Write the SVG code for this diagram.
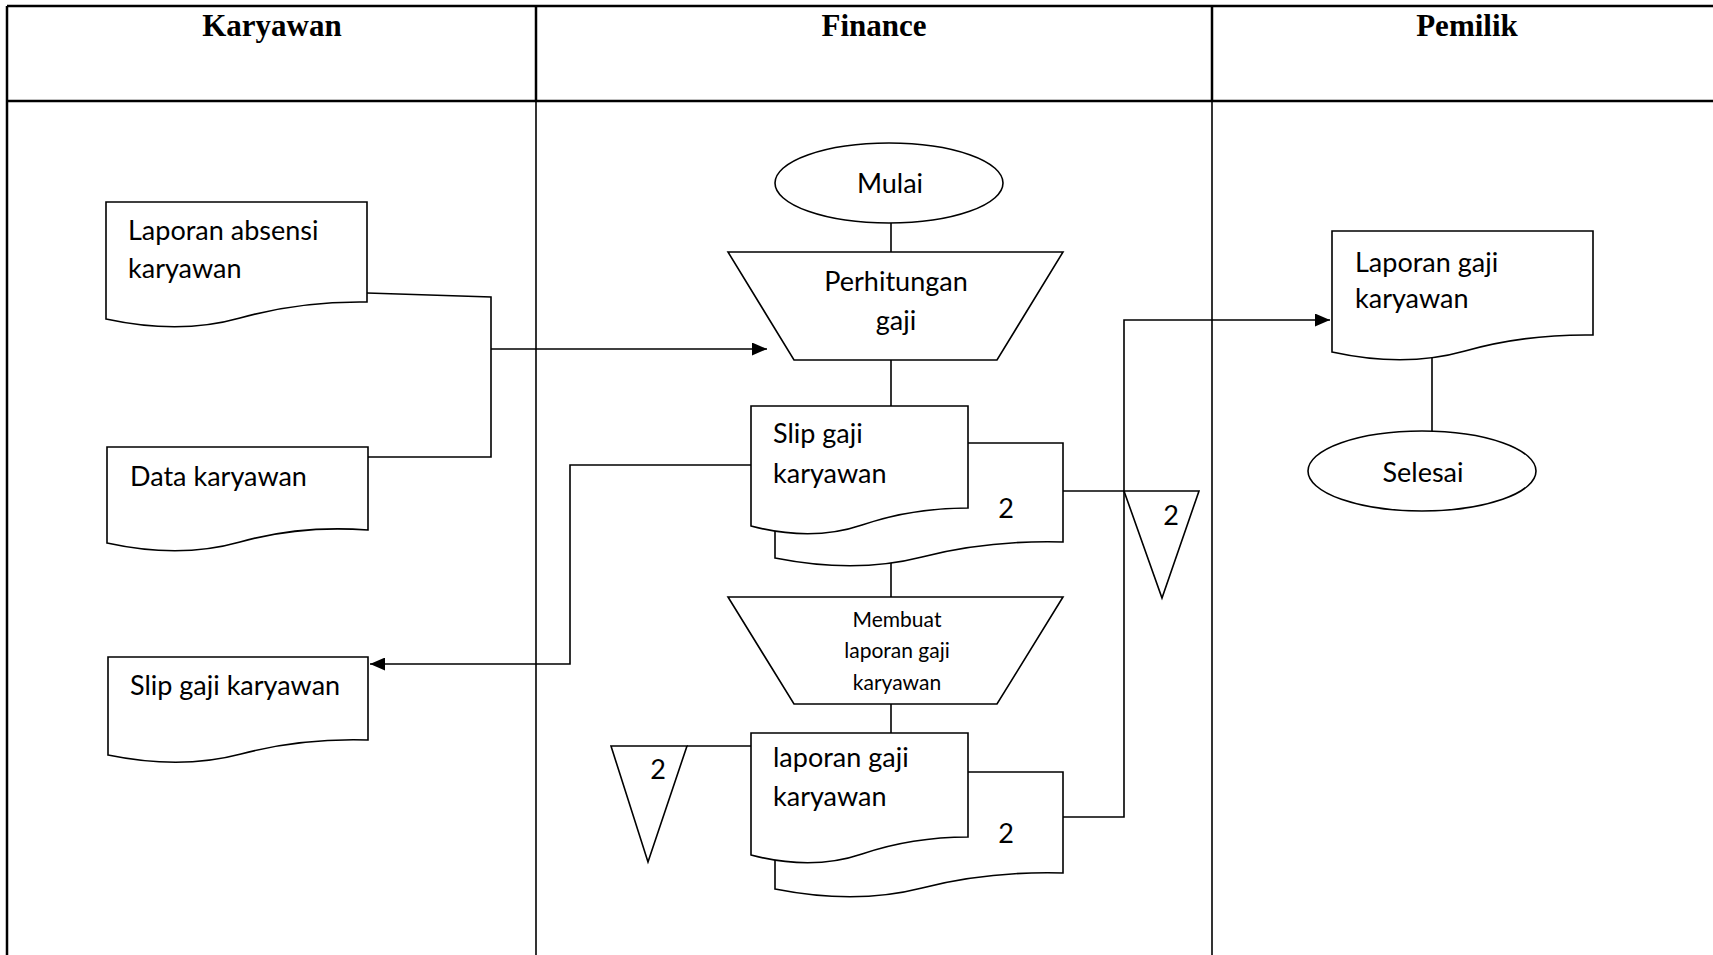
<svg xmlns="http://www.w3.org/2000/svg" width="1713" height="955" viewBox="0 0 1713 955">
<style>
.grid{stroke:#000;stroke-width:2.5;fill:none}
.shape{stroke:#000;stroke-width:1.6;fill:#fff}
.conn{stroke:#000;stroke-width:1.6;fill:none}
.hdr{font-family:"Liberation Serif","Times New Roman",serif;font-weight:bold;font-size:31px;fill:#000;text-anchor:middle}
.t{font-family:Lato,"Liberation Sans",sans-serif;font-size:27px;fill:#000}
.tc{font-family:Lato,"Liberation Sans",sans-serif;font-size:27px;fill:#000;text-anchor:middle}
.ts{font-family:Lato,"Liberation Sans",sans-serif;font-size:21px;fill:#000;text-anchor:middle}
</style>
<defs>
<marker id="arr" markerWidth="15" markerHeight="13" refX="15" refY="6.5" orient="auto" markerUnits="userSpaceOnUse">
<path d="M0,0 L15,6.5 L0,13 Z" fill="#000"/>
</marker>
</defs>
<rect width="1713" height="955" fill="#fff"/>
<g id="table">
<line class="grid" x1="7" y1="6" x2="1713" y2="6"/>
<line class="grid" x1="7" y1="101" x2="1713" y2="101"/>
<line class="grid" x1="7" y1="6" x2="7" y2="955"/>
<line class="grid" x1="536" y1="6" x2="536" y2="955" style="stroke-width:1.6"/>
<line class="grid" x1="1212" y1="6" x2="1212" y2="955" style="stroke-width:1.6"/>
<line class="grid" x1="536" y1="6" x2="536" y2="101"/>
<line class="grid" x1="1212" y1="6" x2="1212" y2="101"/>
<text class="hdr" x="272" y="36">Karyawan</text>
<text class="hdr" x="874" y="36">Finance</text>
<text class="hdr" x="1467" y="36">Pemilik</text>
</g>
<g id="connectors">
<path class="conn" d="M367,293 L491,297 V457 H368"/>
<path class="conn" d="M491,349 H767" marker-end="url(#arr)"/>
<path class="conn" d="M751,465 H570 V664 H370" marker-end="url(#arr)"/>
<path class="conn" d="M891,223 V252"/>
<path class="conn" d="M891,360 V406"/>
<path class="conn" d="M891,563 V597"/>
<path class="conn" d="M891,704 V733"/>
<path class="conn" d="M687,746 H751"/>
<path class="conn" d="M1063,491 H1124"/>
<path class="conn" d="M1063,817 H1124 V320 H1330" marker-end="url(#arr)"/>
<path class="conn" d="M1432,357 V431"/>
</g>
<g id="laporan-absensi">
<path class="shape" d="M106,319 V202 H367 V302 Q300,301 240,318 Q180,335 106,319 Z"/>
<text class="t" x="128" y="240">Laporan absensi</text>
<text class="t" x="128" y="278">karyawan</text>
</g>
<g id="data-karyawan">
<path class="shape" d="M107,543 V447 H368 V530 Q300,525 240,542 Q180,559 107,543 Z"/>
<text class="t" x="130" y="486">Data karyawan</text>
</g>
<g id="slip-karyawan">
<path class="shape" d="M108,755 V657 H368 V740 Q301,738 241,754 Q181,770 108,755 Z"/>
<text class="t" x="130" y="695">Slip gaji karyawan</text>
</g>
<g id="mulai">
<ellipse class="shape" cx="889" cy="183" rx="114" ry="40"/>
<text class="tc" x="890" y="193">Mulai</text>
</g>
<g id="perhitungan">
<polygon class="shape" points="728,252 1063,252 997,360 794,360"/>
<text class="tc" x="896" y="291">Perhitungan</text>
<text class="tc" x="896" y="330">gaji</text>
</g>
<g id="slip-finance">
<path class="shape" d="M775,558 V443 H1063 V542 Q988,540 922,557 Q856,574 775,558 Z"/>
<path class="shape" d="M751,526 V406 H968 V508 Q912,508 862,525 Q812,542 751,526 Z"/>
<text class="t" x="773" y="443">Slip gaji</text>
<text class="t" x="773" y="483">karyawan</text>
<text class="tc" x="1006" y="518">2</text>
</g>
<g id="membuat-laporan">
<polygon class="shape" points="728,597 1063,597 997,704 794,704"/>
<text class="ts" x="897" y="627">Membuat</text>
<text class="ts" x="897" y="658">laporan gaji</text>
<text class="ts" x="897" y="690">karyawan</text>
</g>
<g id="laporan-finance">
<path class="shape" d="M775,889 V772 H1063 V873 Q988,871 922,888 Q856,905 775,889 Z"/>
<path class="shape" d="M751,855 V733 H968 V837 Q912,837 862,854 Q812,871 751,855 Z"/>
<text class="t" x="773" y="767">laporan gaji</text>
<text class="t" x="773" y="806">karyawan</text>
<text class="tc" x="1006" y="843">2</text>
</g>
<g id="arsip-kiri">
<polygon class="shape" points="611,746 687,746 648,862"/>
<text class="tc" x="658" y="779">2</text>
</g>
<g id="arsip-kanan">
<polygon class="shape" points="1124,491 1199,491 1162,598"/>
<text class="tc" x="1171" y="525">2</text>
</g>
<g id="laporan-pemilik">
<path class="shape" d="M1332,352 V231 H1593 V335 Q1525,334 1465,351 Q1405,368 1332,352 Z"/>
<text class="t" x="1355" y="272">Laporan gaji</text>
<text class="t" x="1355" y="308">karyawan</text>
</g>
<g id="selesai">
<ellipse class="shape" cx="1422" cy="471" rx="114" ry="40"/>
<text class="tc" x="1423" y="482">Selesai</text>
</g>
</svg>
